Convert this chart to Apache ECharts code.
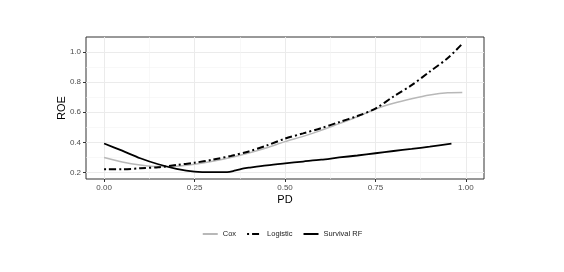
<!DOCTYPE html>
<html><head><meta charset="utf-8">
<script src="https://cdn.jsdelivr.net/npm/echarts@6/dist/echarts.min.js"></script>
<style>html,body{margin:0;padding:0;background:#fff}#c{width:564px;height:272px}</style>
</head><body><div id="c"></div>
<script>
const pd = [0,0.05,0.1,0.15,0.2,0.25,0.3,0.35,0.4,0.45,0.5,0.55,0.6,0.65,0.7,0.75,0.8,0.85,0.9,0.95,0.99];
const coxROE = [0.30,0.27,0.25,0.24,0.242,0.255,0.275,0.30,0.33,0.365,0.405,0.44,0.48,0.525,0.57,0.622,0.66,0.69,0.715,0.73,0.732];
const logisticROE = [0.222,0.222,0.228,0.235,0.25,0.265,0.285,0.31,0.34,0.38,0.425,0.46,0.495,0.535,0.575,0.625,0.705,0.78,0.87,0.96,1.055];
const survPD = [0,0.05,0.1,0.15,0.2,0.25,0.3,0.34,0.36,0.38,0.4,0.45,0.5,0.55,0.6,0.65,0.7,0.75,0.8,0.85,0.9,0.96];
const survROE = [0.393,0.345,0.295,0.255,0.225,0.206,0.202,0.203,0.212,0.225,0.232,0.248,0.261,0.273,0.285,0.3,0.313,0.328,0.343,0.357,0.372,0.392];
const xTicks = [0,0.25,0.5,0.75,1];
const xMinor = [0.125,0.375,0.625,0.875];
const yTicks = [0.2,0.4,0.6,0.8,1.0];
const yMinor = [0.3,0.5,0.7,0.9];

const zip = (a,b) => a.map((v,i)=>[v,b[i]]);
const font = 'Liberation Sans, Arial, sans-serif';
const xMin=-0.05, xMax=1.05, yMin=0.157, yMax=1.1;

const chart = echarts.init(document.getElementById('c'), null, {renderer:'canvas'});
chart.setOption({
  animation:false,
  backgroundColor:'#fff',
  grid:{left:86,right:80,top:37,bottom:93,show:true,borderColor:'#333',borderWidth:1,backgroundColor:'#fff'},
  xAxis:[
    {type:'value',min:xMin,max:xMax,name:'PD',nameLocation:'middle',nameGap:15,nameMoveOverlap:false,
     nameTextStyle:{fontFamily:font,fontSize:11,color:'#000'},
     axisLine:{show:false,onZero:false},
     axisTick:{show:true,length:3,lineStyle:{color:'#333'},customValues:xTicks},
     axisLabel:{fontFamily:font,fontSize:8,color:'#4d4d4d',margin:5,customValues:xTicks,formatter:v=>v.toFixed(2)},
     splitLine:{show:true,lineStyle:{color:'#ebebeb',width:1}}},
    {type:'value',min:xMin,max:xMax,position:'bottom',
     axisLine:{show:false,onZero:false},axisTick:{show:false,customValues:xMinor},
     axisLabel:{show:false,customValues:xMinor},
     splitLine:{show:true,lineStyle:{color:'#f3f3f3',width:0.6}}}
  ],
  yAxis:[
    {type:'value',min:yMin,max:yMax,name:'ROE',nameLocation:'middle',nameGap:19,nameMoveOverlap:false,
     nameTextStyle:{fontFamily:font,fontSize:11,color:'#000'},
     axisLine:{show:false,onZero:false},
     axisTick:{show:true,length:3,lineStyle:{color:'#333'},customValues:yTicks},
     axisLabel:{fontFamily:font,fontSize:8,color:'#4d4d4d',margin:5,customValues:yTicks,formatter:v=>v.toFixed(1)},
     splitLine:{show:true,lineStyle:{color:'#ebebeb',width:1}}},
    {type:'value',min:yMin,max:yMax,position:'left',
     axisLine:{show:false,onZero:false},axisTick:{show:false,customValues:yMinor},
     axisLabel:{show:false,customValues:yMinor},
     splitLine:{show:true,lineStyle:{color:'#f3f3f3',width:0.6}}}
  ],
  legend:{top:225,left:'center',itemWidth:15,itemHeight:10,itemGap:10,
    itemStyle:{opacity:0},
    textStyle:{fontFamily:font,fontSize:7.5,color:'#1a1a1a'},
    data:['Cox','Logistic','Survival RF']},
  series:[
    {name:'Cox',type:'line',data:zip(pd,coxROE),symbol:'none',smooth:0.3,
     lineStyle:{color:'#b8b8b8',width:1.5},itemStyle:{color:'#b8b8b8'},z:2},
    {name:'Logistic',type:'line',data:zip(pd,logisticROE),symbol:'none',smooth:0.3,
     lineStyle:{color:'#000',width:2,type:[2,3,7,3]},itemStyle:{color:'#000'},z:3},
    {name:'Survival RF',type:'line',data:zip(survPD,survROE),symbol:'none',smooth:0.3,
     lineStyle:{color:'#000',width:1.8},itemStyle:{color:'#000'},z:4}
  ]
});
</script></body></html>
